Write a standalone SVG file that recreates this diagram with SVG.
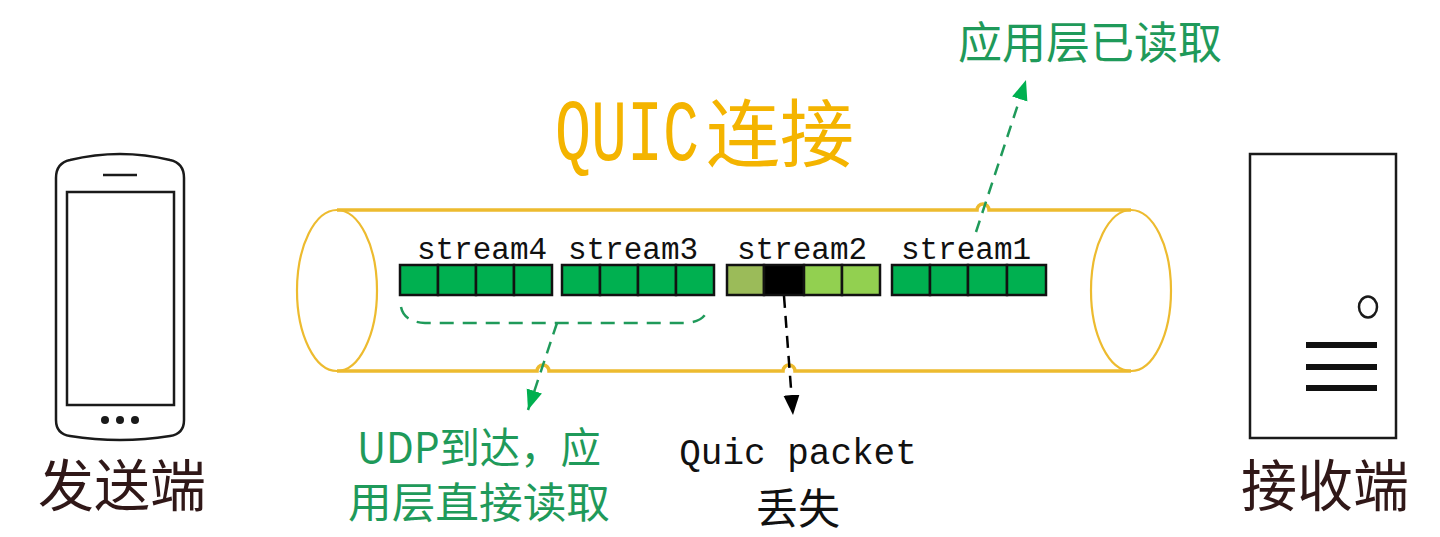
<svg xmlns="http://www.w3.org/2000/svg" width="1440" height="537" viewBox="0 0 1440 537">
<style>
.gold{fill:none;stroke:#EDBB2F}
.cell{stroke:#111;stroke-width:2.5}
.g{fill:#00B050}
.mono{font-family:"Liberation Mono","DejaVu Sans Mono",monospace;fill:#111}
.cjk{font-family:"Noto Sans CJK SC","Noto Sans CJK JP",sans-serif}
.dev{fill:none;stroke:#1a1a1a;stroke-width:2.5}
.gtxt{fill:#1F9A5A}
.dk{fill:#301818}
</style>
<defs>
<marker id="ag" markerUnits="userSpaceOnUse" markerWidth="22" markerHeight="18" refX="20" refY="8" orient="auto" viewBox="0 0 22 18">
<path d="M0,0 L20,8 L0,16 z" fill="#00B050"/>
</marker>
<marker id="ab" markerUnits="userSpaceOnUse" markerWidth="22" markerHeight="18" refX="20" refY="8" orient="auto" viewBox="0 0 22 18">
<path d="M0,0 L20,8 L0,16 z" fill="#000"/>
</marker>
</defs>
<rect width="1440" height="537" fill="#fff"/>

<g id="sender">
<path class="dev" d="M70,160 Q120,148 170,160 Q184,163 184,178 V420 Q184,434 170,436 Q120,444 70,436 Q56,434 56,420 V178 Q56,163 70,160 Z"/>
<rect class="dev" x="67" y="192" width="107" height="213"/>
<line x1="103" y1="175" x2="137" y2="175" stroke="#1a1a1a" stroke-width="2.5"/>
<circle cx="105" cy="420" r="4" fill="#1a1a1a"/>
<circle cx="120" cy="420" r="4" fill="#1a1a1a"/>
<circle cx="135" cy="420" r="4" fill="#1a1a1a"/>
<text class="cjk dk" x="122" y="506" font-size="56" text-anchor="middle">发送端</text>
</g>

<g id="receiver">
<rect class="dev" x="1250" y="154" width="146" height="284"/>
<ellipse cx="1368" cy="307" rx="9" ry="10.5" fill="none" stroke="#1a1a1a" stroke-width="2.5"/>
<g stroke="#111" stroke-width="6">
<line x1="1306" y1="345" x2="1377" y2="345"/>
<line x1="1306" y1="367" x2="1377" y2="367"/>
<line x1="1306" y1="388" x2="1377" y2="388"/>
</g>
<text class="cjk dk" x="1325" y="506" font-size="56" text-anchor="middle">接收端</text>
</g>

<g id="quic-connection">
<path class="gold" stroke-width="3.5" d="M337,210 H977 a6,6 0 0 1 12,0 H1131"/>
<path class="gold" stroke-width="3.5" d="M337,371 H537 a6,6 0 0 1 12,0 H783 a6,6 0 0 1 12,0 H1131"/>
<ellipse class="gold" stroke-width="2.2" cx="337" cy="290.5" rx="40" ry="80.5"/>
<ellipse class="gold" stroke-width="2.2" cx="1131" cy="290.5" rx="40" ry="80.5"/>
<text class="mono" transform="translate(555,160) scale(1,1.45)" font-size="60" style="fill:#F4B400">QUIC</text>
<text class="cjk" x="706" y="161" font-size="74" style="fill:#F4B400">连接</text>
</g>

<g id="stream4">
<text class="mono" x="482" y="259" font-size="31" text-anchor="middle">stream4</text>
<rect class="cell g" x="400" y="265" width="38" height="30"/>
<rect class="cell g" x="438" y="265" width="38" height="30"/>
<rect class="cell g" x="476" y="265" width="38" height="30"/>
<rect class="cell g" x="514" y="265" width="38" height="30"/>
</g>
<g id="stream3">
<text class="mono" x="633" y="259" font-size="31" text-anchor="middle">stream3</text>
<rect class="cell g" x="562" y="265" width="38" height="30"/>
<rect class="cell g" x="600" y="265" width="38" height="30"/>
<rect class="cell g" x="638" y="265" width="38" height="30"/>
<rect class="cell g" x="676" y="265" width="38" height="30"/>
</g>
<g id="stream2">
<text class="mono" x="802" y="259" font-size="31" text-anchor="middle">stream2</text>
<rect class="cell" fill="#9BBB59" x="727" y="265" width="37" height="30"/>
<rect class="cell" fill="#000" x="764" y="265" width="40" height="30"/>
<rect class="cell" fill="#92D050" x="804" y="265" width="38" height="30"/>
<rect class="cell" fill="#92D050" x="842" y="265" width="38" height="30"/>
</g>
<g id="stream1">
<text class="mono" x="966" y="259" font-size="31" text-anchor="middle">stream1</text>
<rect class="cell g" x="892" y="265" width="38" height="30"/>
<rect class="cell g" x="930" y="265" width="38" height="30"/>
<rect class="cell g" x="968" y="265" width="39" height="30"/>
<rect class="cell g" x="1007" y="265" width="39" height="30"/>
</g>

<g id="connectors" fill="none" stroke-width="2.5">
<line x1="976" y1="232" x2="1026" y2="80" stroke="#1F9A5A" stroke-dasharray="12,8" marker-end="url(#ag)"/>
<path d="M401,307 Q404,322 425,323 H685 Q705,322 708,308" stroke="#1F9A5A" stroke-dasharray="14,9"/>
<line x1="557" y1="323" x2="528" y2="410" stroke="#1F9A5A" stroke-dasharray="12,8" marker-end="url(#ag)"/>
<line x1="784" y1="296" x2="793" y2="415" stroke="#000" stroke-dasharray="12,8" marker-end="url(#ab)"/>
</g>

<g id="labels">
<text class="cjk gtxt" x="1090" y="59" font-size="44" text-anchor="middle">应用层已读取</text>
<text class="cjk gtxt" x="479" y="463" font-size="42" text-anchor="middle" textLength="244" lengthAdjust="spacingAndGlyphs">UDP到达，应</text>
<text class="cjk gtxt" x="479" y="518" font-size="42" text-anchor="middle" textLength="262" lengthAdjust="spacingAndGlyphs">用层直接读取</text>
<text class="mono" x="798" y="464" font-size="36" text-anchor="middle">Quic packet</text>
<text class="cjk" x="798" y="524" font-size="42" text-anchor="middle" fill="#111">丢失</text>
</g>
</svg>
